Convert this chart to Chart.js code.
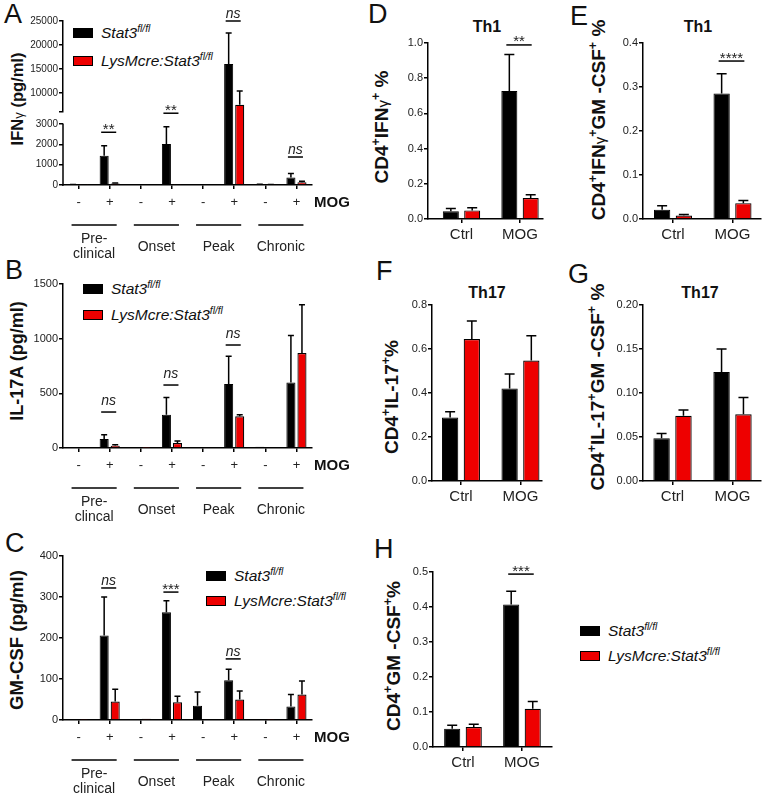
<!DOCTYPE html>
<html lang="en">
<head>
<meta charset="UTF-8">
<title>Stat3 deletion - cytokines and T cell subsets</title>
<script src="https://cdn.jsdelivr.net/npm/chart.js"></script>
<style>
  body { margin: 0; background: #fff; font-family: "Liberation Sans", Arial, sans-serif; color: #111; }
  #fig { position: relative; width: 762px; height: 800px; overflow: hidden; }
  #fig canvas { position: absolute; left: 0; top: 0; }
  .letter { position: absolute; font-size: 27px; line-height: 1; }
  .ytitle { position: absolute; font-weight: bold; white-space: nowrap; line-height: 1; transform: translate(-50%, -50%) rotate(-90deg); }
  .ytitle sup, .leg sup { font-size: 0.66em; vertical-align: baseline; position: relative; top: -0.62em; }
  .ytitle .g { font-size: 0.8em; font-weight: normal; }
  .th { position: absolute; font-weight: bold; font-size: 16px; line-height: 1; transform: translate(-50%, -50%); }
  .leg { position: absolute; height: 16px; display: flex; align-items: center; font-style: italic; font-size: 15.5px; white-space: nowrap; }
  .leg .box { width: 20px; height: 10px; box-sizing: border-box; border: 1px solid #000; margin-right: 8px; }
</style>
</head>
<body>
<div id="fig">
  <!-- panel letters -->
  <div class="letter" style="left:4px; top:1px">A</div>
  <div class="letter" style="left:5px; top:257px">B</div>
  <div class="letter" style="left:5px; top:530px">C</div>
  <div class="letter" style="left:368px; top:1px">D</div>
  <div class="letter" style="left:570px; top:3px">E</div>
  <div class="letter" style="left:376px; top:258px">F</div>
  <div class="letter" style="left:568px; top:261px">G</div>
  <div class="letter" style="left:374px; top:536px">H</div>

  <!-- axis titles -->
  <div class="ytitle" style="left:17px; top:99px; font-size:16.5px">IFN<span class="g">γ</span> (pg/ml)</div>
  <div class="ytitle" style="left:17px; top:361px; font-size:18px">IL-17A (pg/ml)</div>
  <div class="ytitle" style="left:17px; top:640px; font-size:18.5px">GM-CSF (pg/ml)</div>
  <div class="ytitle" style="left:381px; top:127px; font-size:19px">CD4<sup>+</sup>IFN<span class="g">γ</span><sup>+</sup> %</div>
  <div class="ytitle" style="left:598px; top:120px; font-size:19px">CD4<sup>+</sup>IFN<span class="g">γ</span><sup>+</sup>GM -CSF<sup>+</sup> %</div>
  <div class="ytitle" style="left:391px; top:397px; font-size:19px">CD4<sup>+</sup>IL-17<sup>+</sup>%</div>
  <div class="ytitle" style="left:597px; top:387px; font-size:19px">CD4<sup>+</sup>IL-17<sup>+</sup>GM -CSF<sup>+</sup> %</div>
  <div class="ytitle" style="left:393px; top:656px; font-size:19px">CD4<sup>+</sup>GM -CSF<sup>+</sup>%</div>

  <div class="th" style="left:487px; top:27px">Th1</div>
  <div class="th" style="left:698px; top:27px">Th1</div>
  <div class="th" style="left:487px; top:293px">Th17</div>
  <div class="th" style="left:700px; top:293px">Th17</div>

  <!-- legends -->
  <div class="leg" style="left:73px; top:25px"><span class="box" style="background:#000"></span><span>Stat3<sup>fl/fl</sup></span></div>
  <div class="leg" style="left:73px; top:53px"><span class="box" style="background:#ee0000"></span><span>LysMcre:Stat3<sup>fl/fl</sup></span></div>
  <div class="leg" style="left:83px; top:281px"><span class="box" style="background:#000"></span><span>Stat3<sup>fl/fl</sup></span></div>
  <div class="leg" style="left:83px; top:307px"><span class="box" style="background:#ee0000"></span><span>LysMcre:Stat3<sup>fl/fl</sup></span></div>
  <div class="leg" style="left:206px; top:568px"><span class="box" style="background:#000"></span><span>Stat3<sup>fl/fl</sup></span></div>
  <div class="leg" style="left:206px; top:593px"><span class="box" style="background:#ee0000"></span><span>LysMcre:Stat3<sup>fl/fl</sup></span></div>
  <div class="leg" style="left:580px; top:623px"><span class="box" style="background:#000"></span><span>Stat3<sup>fl/fl</sup></span></div>
  <div class="leg" style="left:580px; top:648px"><span class="box" style="background:#ee0000"></span><span>LysMcre:Stat3<sup>fl/fl</sup></span></div>
</div>

<script>
// ---- data ----
const stageTicks = ['-', '+', '-', '+', '-', '+', '-', '+'];
const stageGroups = ['Pre-\nclinical', 'Onset', 'Peak', 'Chronic'];
const stageGroupsB = ['Pre-\nclincal', 'Onset', 'Peak', 'Chronic'];
const cellCats = ['Ctrl', 'MOG'];
const seriesNames = ['Stat3fl/fl', 'LysMcre:Stat3fl/fl'];

// A: IFNγ (pg/ml), mean and SEM
const ifngWT = [20, 1440, 0, 2020, 0, 16000, 25, 370];
const ifngWTsem = [10, 490, 0, 850, 0, 6500, 10, 200];
const ifngKO = [10, 70, 0, 10, 0, 7500, 20, 130];
const ifngKOsem = [5, 30, 0, 5, 0, 2900, 5, 60];
const ifngTicksLow = [0, 1000, 2000, 3000];
const ifngTicksHigh = [10000, 15000, 20000, 25000];

// B: IL-17A (pg/ml)
const il17WT = [2, 82, 3, 305, 3, 585, 12, 600];
const il17WTsem = [0, 40, 0, 158, 0, 254, 0, 430];
const il17KO = [0, 20, 2, 46, 0, 290, 8, 869];
const il17KOsem = [0, 10, 0, 19, 0, 15, 0, 442];
const il17Ticks = [0, 500, 1000, 1500];

// C: GM-CSF (pg/ml)
const gmWT = [1, 206, 2, 263, 35, 97, 1, 33];
const gmWTsem = [0, 94, 0, 28, 33, 27, 0, 29];
const gmKO = [1, 45, 3, 43, 2, 50, 1, 62];
const gmKOsem = [0, 30, 0, 15, 0, 21, 0, 33];
const gmTicks = [0, 100, 200, 300, 400];

// D-H: % of CD4 cells (Ctrl, MOG)
const dWT = [0.044, 0.727], dWTsem = [0.015, 0.207], dKO = [0.049, 0.119], dKOsem = [0.015, 0.019];
const eWT = [0.021, 0.285], eWTsem = [0.009, 0.045], eKO = [0.008, 0.036], eKOsem = [0.002, 0.006];
const fWT = [0.289, 0.421], fWTsem = [0.026, 0.065], fKO = [0.645, 0.548], fKOsem = [0.082, 0.112];
const gWT = [0.0485, 0.124], gWTsem = [0.0055, 0.026], gKO = [0.0742, 0.0758], gKOsem = [0.0065, 0.019];
const hWT = [0.052, 0.407], hWTsem = [0.010, 0.038], hKO = [0.057, 0.109], hKOsem = [0.008, 0.021];
const dTicks = [0, 0.2, 0.4, 0.6, 0.8, 1.0];
const eTicks = [0, 0.1, 0.2, 0.3, 0.4];
const fTicks = [0, 0.2, 0.4, 0.6, 0.8];
const gTicks = [0, 0.05, 0.10, 0.15, 0.20];
const hTicks = [0, 0.1, 0.2, 0.3, 0.4, 0.5];

// ---- drawing ----
const W = 762, H = 800;
const FONT = '"Liberation Sans", Arial, sans-serif';
const RED = '#ee0000';
Chart.defaults.font.family = FONT;
Chart.defaults.color = '#222';
Chart.defaults.animation = false;
Chart.defaults.plugins.legend.display = false;
Chart.defaults.plugins.tooltip.enabled = false;

const fig = document.getElementById('fig');
function addCanvas() {
  const c = document.createElement('canvas');
  c.width = W; c.height = H;
  fig.appendChild(c);
  return c;
}

// upward SEM whiskers
const errorBars = {
  id: 'errorBars',
  afterDatasetsDraw(chart, args, opts) {
    const { ctx, chartArea: a } = chart;
    const y = chart.scales.y;
    const cap = opts.cap || 4;
    ctx.save();
    ctx.beginPath();
    ctx.rect(a.left, a.top - 3, a.right - a.left, a.bottom - a.top + 3);
    ctx.clip();
    ctx.strokeStyle = '#000';
    ctx.lineWidth = 1.5;
    chart.data.datasets.forEach((ds, di) => {
      const meta = chart.getDatasetMeta(di);
      meta.data.forEach((bar, i) => {
        const err = ds.errors ? ds.errors[i] : 0;
        if (!err) return;
        const top = y.getPixelForValue(meta.controller.getParsed(i).y + err);
        ctx.beginPath();
        ctx.moveTo(bar.x, bar.y);
        ctx.lineTo(bar.x, top);
        ctx.moveTo(bar.x - cap, top);
        ctx.lineTo(bar.x + cap, top);
        ctx.stroke();
      });
    });
    ctx.restore();
  }
};

// significance bars (ns, **, ...)
const sigMarks = {
  id: 'sigMarks',
  afterDraw(chart, args, opts) {
    if (!opts.cats) return;
    const { ctx } = chart;
    const y = chart.scales.y;
    const m0 = chart.getDatasetMeta(0), m1 = chart.getDatasetMeta(1);
    ctx.save();
    ctx.strokeStyle = '#000';
    ctx.fillStyle = '#222';
    ctx.lineWidth = 1.5;
    ctx.textAlign = 'center';
    ctx.textBaseline = 'alphabetic';
    opts.cats.forEach((c, k) => {
      const py = y.getPixelForValue(opts.levels[k]);
      const x0 = m0.data[c].x - 3, x1 = m1.data[c].x + 1;
      ctx.beginPath();
      ctx.moveTo(x0, py);
      ctx.lineTo(x1, py);
      ctx.stroke();
      const t = opts.texts[k];
      if (t === 'ns') {
        ctx.font = 'italic 14px ' + FONT;
        ctx.fillText(t, (x0 + x1) / 2, py - (opts.gap || 7) + 3.6);
      } else {
        ctx.font = '15px ' + FONT;
        ctx.fillText(t, (x0 + x1) / 2, py + 1.5);
      }
    });
    ctx.restore();
  }
};

// stage bars and names under the -/+ ticks, plus the MOG tag
const stageLabels = {
  id: 'stageLabels',
  afterDraw(chart, args, opts) {
    if (!opts.groups) return;
    const { ctx, chartArea: a } = chart;
    const x = chart.scales.x;
    const base = a.bottom;
    ctx.save();
    ctx.strokeStyle = '#000';
    ctx.lineWidth = 1.5;
    ctx.fillStyle = '#222';
    ctx.textAlign = 'center';
    ctx.textBaseline = 'middle';
    ctx.font = '14px ' + FONT;
    opts.groups.forEach((g, k) => {
      const x0 = x.getPixelForValue(2 * k) - 7, x1 = x.getPixelForValue(2 * k + 1) + 7;
      ctx.beginPath();
      ctx.moveTo(x0, base + 40);
      ctx.lineTo(x1, base + 40);
      ctx.stroke();
      const mid = (x0 + x1) / 2, lines = g.split('\n');
      if (lines.length === 1) ctx.fillText(g, mid, base + 62);
      else lines.forEach((s, j) => ctx.fillText(s, mid, base + 54 + 15 * j));
    });
    ctx.font = 'bold 15px ' + FONT;
    ctx.fillStyle = '#111';
    ctx.textAlign = 'left';
    ctx.fillText(opts.tag, a.right + 2, base + 18);
    ctx.restore();
  }
};

// y axis line that stops at a value (for the broken IFNγ axis)
const partialAxis = {
  id: 'partialAxis',
  afterDraw(chart, args, opts) {
    if (opts.top == null) return;
    const { ctx, chartArea: a } = chart;
    const y = chart.scales.y;
    ctx.save();
    ctx.strokeStyle = '#000';
    ctx.lineWidth = 1.5;
    ctx.beginPath();
    ctx.moveTo(a.left, y.getPixelForValue(0) + 0.75);
    ctx.lineTo(a.left, y.getPixelForValue(opts.top) - 0.75);
    ctx.stroke();
    ctx.restore();
  }
};

Chart.register(errorBars, sigMarks, stageLabels, partialAxis);

const axisGrid = () => ({ display: true, offset: false, drawOnChartArea: false, drawTicks: true, tickLength: 4, color: '#000', lineWidth: 1.5 });
const axisBorder = () => ({ display: true, color: '#000', width: 1.5 });

function yAxis(tickVals, min, max, width, fmt, size) {
  return {
    min: min, max: max,
    afterBuildTicks: s => { s.ticks = tickVals.map(v => ({ value: v })); },
    afterFit: s => { s.width = width; },
    ticks: { font: { size: size }, padding: 1, callback: fmt },
    grid: axisGrid(),
    border: axisBorder()
  };
}

function barSets(wt, wtSem, ko, koSem, asPoints) {
  const pts = arr => asPoints ? arr.map((v, i) => ({ x: i, y: v })) : arr;
  return [
    { label: seriesNames[0], data: pts(wt), errors: wtSem, backgroundColor: '#000', borderColor: '#000', borderWidth: 1 },
    { label: seriesNames[1], data: pts(ko), errors: koSem, backgroundColor: RED, borderColor: '#000', borderWidth: 1.2 }
  ];
}

const intFmt = v => String(v);

// left column: cytokines by disease stage
function stageChart(o) {
  const xh = 75;
  return new Chart(addCanvas(), {
    type: 'bar',
    data: { labels: stageTicks, datasets: barSets(o.wt, o.wtSem, o.ko, o.koSem, false) },
    options: {
      responsive: false,
      datasets: { bar: { categoryPercentage: 0.71, barPercentage: 0.82, clip: 0 } },
      layout: { padding: { left: 0, top: o.top, right: W - 312, bottom: H - o.bottom - xh } },
      scales: {
        x: {
          type: 'category', offset: true,
          afterFit: s => { s.height = xh; },
          ticks: { font: { size: 13 }, padding: 6, autoSkip: false, maxRotation: 0 },
          grid: axisGrid(), border: axisBorder()
        },
        y: Object.assign(yAxis(o.ticks, 0, o.max, 63, intFmt, o.tickSize), o.yExtra || {})
      },
      plugins: {
        errorBars: { cap: 3 },
        sigMarks: o.sig,
        stageLabels: { groups: o.groups, tag: 'MOG' },
        partialAxis: o.axisTop ? { top: o.axisTop } : {}
      }
    }
  });
}

// A, upper segment of the broken axis
const ifngUpperMin = 6000;
new Chart(addCanvas(), {
  type: 'bar',
  data: { labels: stageTicks, datasets: barSets(ifngWT, ifngWTsem, ifngKO, ifngKOsem, false) },
  options: {
    responsive: false,
    datasets: { bar: { categoryPercentage: 0.71, barPercentage: 0.82, clip: 0 } },
    layout: { padding: { left: 0, top: 21, right: W - 312, bottom: H - 112 } },
    scales: {
      x: { display: false, offset: true },
      y: yAxis([ifngUpperMin].concat(ifngTicksHigh), ifngUpperMin, 25000, 63,
               v => ifngTicksHigh.includes(v) ? String(v) : '', 10)
    },
    plugins: {
      errorBars: { cap: 3 },
      sigMarks: { cats: [5], levels: [25000], texts: ['ns'], gap: 7 }
    }
  }
});

// A, lower segment
stageChart({
  wt: ifngWT, wtSem: ifngWTsem, ko: ifngKO, koSem: ifngKOsem,
  ticks: ifngTicksLow, max: 3600, top: 112, bottom: 185, tickSize: 10,
  yExtra: { border: { display: false } }, axisTop: 3000,
  groups: stageGroups,
  sig: { cats: [1, 3, 7], levels: [2600, 3540, 1380], texts: ['**', '**', 'ns'], gap: 7 }
});

// B
stageChart({
  wt: il17WT, wtSem: il17WTsem, ko: il17KO, koSem: il17KOsem,
  ticks: il17Ticks, max: 1500, top: 284, bottom: 448, tickSize: 11,
  groups: stageGroupsB,
  sig: { cats: [1, 3, 5], levels: [329, 576, 942], texts: ['ns', 'ns', 'ns'], gap: 11 }
});

// C
stageChart({
  wt: gmWT, wtSem: gmWTsem, ko: gmKO, koSem: gmKOsem,
  ticks: gmTicks, max: 400, top: 556, bottom: 720, tickSize: 11,
  groups: stageGroups,
  sig: { cats: [1, 3, 5], levels: [322, 312, 149], texts: ['ns', '***', 'ns'], gap: 7 }
});

// right side: Ctrl vs MOG
function cellChart(o) {
  const xh = 40;
  return new Chart(addCanvas(), {
    type: 'bar',
    data: { datasets: barSets(o.wt, o.wtSem, o.ko, o.koSem, true) },
    options: {
      responsive: false,
      datasets: { bar: { categoryPercentage: 0.73, barPercentage: 0.75, clip: 0 } },
      layout: { padding: { left: 0, top: o.top, right: W - o.right, bottom: H - o.bottom - xh } },
      scales: {
        x: {
          type: 'linear', min: o.xmin, max: o.xmax, offset: false,
          afterBuildTicks: s => { s.ticks = cellCats.map((c, i) => ({ value: i })); },
          afterFit: s => { s.height = xh; },
          ticks: { font: { size: 15 }, padding: 3, callback: v => cellCats[v] },
          grid: axisGrid(), border: axisBorder()
        },
        y: yAxis(o.ticks, 0, o.ticks[o.ticks.length - 1], o.left, o.fmt, 11)
      },
      plugins: {
        errorBars: { cap: 5 },
        sigMarks: o.sig || {}
      }
    }
  });
}

const fmt1 = v => v.toFixed(1);
const fmt2 = v => v.toFixed(2);

cellChart({ wt: dWT, wtSem: dWTsem, ko: dKO, koSem: dKOsem, ticks: dTicks, fmt: fmt1,
  left: 428, right: 543, top: 43, bottom: 219, xmin: -0.573, xmax: 1.393,
  sig: { cats: [1], levels: [0.989], texts: ['**'] } });
cellChart({ wt: eWT, wtSem: eWTsem, ko: eKO, koSem: eKOsem, ticks: eTicks, fmt: fmt1,
  left: 643, right: 761, top: 43, bottom: 219, xmin: -0.504, xmax: 1.479,
  sig: { cats: [1], levels: [0.359], texts: ['****'] } });
cellChart({ wt: fWT, wtSem: fWTsem, ko: fKO, koSem: fKOsem, ticks: fTicks, fmt: fmt1,
  left: 432, right: 542, top: 305, bottom: 481, xmin: -0.487, xmax: 1.362 });
cellChart({ wt: gWT, wtSem: gWTsem, ko: gKO, koSem: gKOsem, ticks: gTicks, fmt: fmt2,
  left: 643, right: 761, top: 305, bottom: 481, xmin: -0.492, xmax: 1.475 });
cellChart({ wt: hWT, wtSem: hWTsem, ko: hKO, koSem: hKOsem, ticks: hTicks, fmt: fmt1,
  left: 433, right: 552, top: 572, bottom: 747, xmin: -0.508, xmax: 1.509,
  sig: { cats: [1], levels: [0.494], texts: ['***'] } });
</script>
</body>
</html>
